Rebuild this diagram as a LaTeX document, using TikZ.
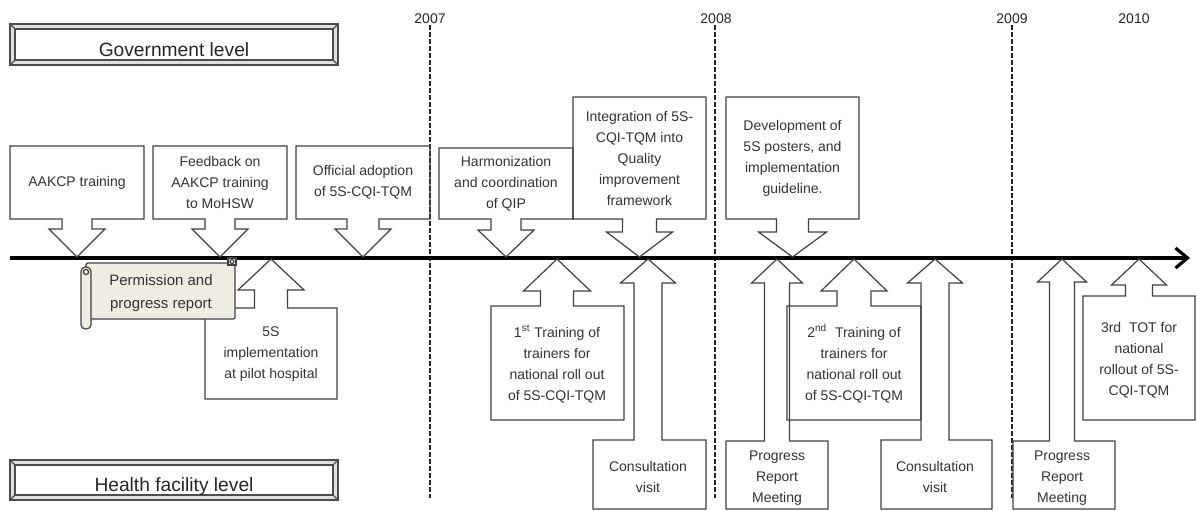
\documentclass[tikz,border=0pt]{standalone}
\usepackage{fontspec}
\setmainfont{Liberation Sans}
\usetikzlibrary{arrows.meta}

\begin{document}
\begin{tikzpicture}[x=0.5pt,y=-0.5pt,
  bulle/.style={draw=black!75,line width=0.6pt},
  evt/.style={text=black!80,align=center,inner sep=0pt,font=\fontsize{7}{10.5}\selectfont},
  niveau/.style={draw=black!70,line width=0.6pt},
  annee/.style={black!85,line width=0.9pt,dash pattern=on 2.5pt off 1pt},
  axe/.style={line width=1.6pt,-{Straight Barb[length=6pt,width=10pt]}}]
\useasboundingbox (0,0) rectangle (1197,510);

% Levels
\foreach \n/\yt/\yb/\txt in {gov/24/65/Government level, hf/460/500/Health facility level}
{
  \draw [niveau,fill=black!12] (10,\yt) rectangle (338,\yb);
  \draw [niveau,fill=white] (15,\yt+5) rectangle (333,\yb-5);
  \draw [niveau] (10,\yt) -- (15,\yt+5) (338,\yt) -- (333,\yt+5)
                 (10,\yb) -- (15,\yb-5) (338,\yb) -- (333,\yb-5);
  \node [text=black!85,anchor=base,font=\fontsize{9.6}{11}\selectfont] (\n) at (174,\yb-8.5) {\txt};
}

% Years
\foreach \x/\an in {430/2007, 715/2008, 1012/2009}
  \draw [annee] (\x,25) -- (\x,498);
\foreach \x/\an in {430/2007, 716/2008, 1012/2009, 1134/2010}
  \node [anchor=base,text=black!85,inner sep=0pt,font=\fontsize{7}{8}\selectfont] (y\an) at (\x,23) {\an};

% Time axis
\draw [axe] (10,258) -- (1190,258);

% Government events
\foreach \n/\xl/\xr/\yt/\ls/\lh/\yh/\txt in {
  1/10/144/146/15/28/229/{AAKCP training},
  2/153/287/146/15/28/229/{Feedback on\\AAKCP training\\to MoHSW},
  3/296/430/146/16/28/229/{Official adoption\\of 5S-CQI-TQM},
  4/439/573/148/15/28/230/{Harmonization\\and coordination\\of QIP},
  5/573/706/97/17/33/232/{Integration of 5S-\\CQI-TQM into\\Quality\\improvement\\framework},
  6/726/859/97/16/34/232/{Development of\\5S posters, and\\implementation\\guideline.}}
{
  \pgfmathsetmacro{\xm}{(\xl+\xr)/2}
  \draw [bulle] (\xl,\yt) -- (\xr,\yt) -- (\xr,219) -- (\xm+\ls,219) -- (\xm+\ls,\yh)
     -- (\xm+\lh,\yh) -- (\xm,257) -- (\xm-\lh,\yh) -- (\xm-\ls,\yh) -- (\xm-\ls,219)
     -- (\xl,219) -- cycle;
  \node [evt] (gov\n) at (\xm,{(\yt+219)/2}) {\txt};
}

% Health facility events
\foreach \n/\xm/\ls/\lh/\yh/\yt/\xl/\xr/\yb/\ty/\txt in {
  1/271/16.5/33/290/308/205/337/399/354/{5S\\implementation\\at pilot hospital},
  2/557/16.5/33.5/291/306/491/624/420/364/{1\textsuperscript{st} Training of\\trainers for\\national roll out\\of 5S-CQI-TQM},
  3/648/14/27.5/283/440/593/706/509/477/{Consultation\\visit},
  4/777/12.5/25.5/283/441/726/828/509/478/{Progress\\Report\\Meeting},
  5/854/17/33/291/306/787/921/420/364/{2\textsuperscript{nd}~~Training of\\trainers for\\national roll out\\of 5S-CQI-TQM},
  6/935/14/27.5/283/440/881/992/509/477/{Consultation\\visit},
  7/1062/12.5/24.5/282/441/1013/1115/509/478/{Progress\\Report\\Meeting},
  8/1139/13.5/27.5/285/296/1083/1195/420/360/{3rd~~TOT for\\national\\rollout of 5S-\\CQI-TQM}}
{
  \draw [bulle] (\xl,\yb) -- (\xl,\yt) -- (\xm-\ls,\yt) -- (\xm-\ls,\yh) -- (\xm-\lh,\yh)
     -- (\xm,259) -- (\xm+\lh,\yh) -- (\xm+\ls,\yh) -- (\xm+\ls,\yt) -- (\xr,\yt)
     -- (\xr,\yb) -- cycle;
  \node [evt] (hf\n) at (\xm,\ty) {\txt};
}

% Scroll
\definecolor{parchemin}{RGB}{239,236,226}
\draw [bulle,fill=parchemin,rounded corners=1pt] (86,263) rectangle (235,319);
\draw [bulle,fill=parchemin] (228,258) rectangle (236,265);
\draw [bulle] (232,261.5) circle (1pt);
\draw [bulle,fill=parchemin,rounded corners=2.2pt] (81,267) rectangle (91,329);
\draw [bulle,fill=parchemin] (86,272) circle (1.3pt);
\node [text=black!80,align=center,inner sep=0pt,font=\fontsize{7.5}{11.5}\selectfont] (perm) at (161,293) {Permission and\\progress report};

\end{tikzpicture}
\end{document}
